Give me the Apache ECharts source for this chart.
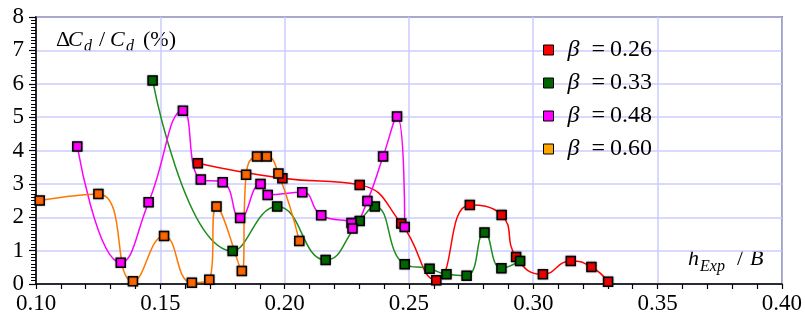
<!DOCTYPE html>
<html>
<head>
<meta charset="utf-8">
<script src="https://cdn.jsdelivr.net/npm/echarts@6/dist/echarts.min.js"></script>
<style>
  html, body { margin: 0; padding: 0; background: #fff; }
  #chart { width: 805px; height: 317px; }
</style>
</head>
<body>
<div id="chart"></div>
<script>
// beta = 0.26
var xRed = [0.1651, 0.1991, 0.2302, 0.2469, 0.2610, 0.2745, 0.2873, 0.2931, 0.3039, 0.3151, 0.3234, 0.3301];
var yRed = [3.62, 3.17, 2.97, 1.81, 0.11, 2.37, 2.07, 0.81, 0.29, 0.69, 0.51, 0.07];
// beta = 0.33
var xGreen = [0.1469, 0.1791, 0.1970, 0.2165, 0.2302, 0.2363, 0.2483, 0.2583, 0.2651, 0.2732, 0.2804, 0.2872, 0.2947];
var yGreen = [6.10, 0.99, 2.32, 0.72, 1.89, 2.32, 0.59, 0.46, 0.29, 0.25, 1.54, 0.47, 0.69];
// beta = 0.48
var xPink = [0.1166, 0.1341, 0.1453, 0.1591, 0.1663, 0.1751, 0.1821, 0.1903, 0.1932, 0.2071, 0.2147, 0.2269, 0.2273, 0.2333, 0.2396, 0.2452, 0.2483];
var yPink = [4.12, 0.64, 2.45, 5.19, 3.13, 3.05, 1.98, 3.00, 2.67, 2.75, 2.06, 1.83, 1.66, 2.49, 3.82, 5.02, 1.71];
// beta = 0.60
var xOrange = [0.1015, 0.1251, 0.1390, 0.1515, 0.1627, 0.1697, 0.1726, 0.1828, 0.1845, 0.1889, 0.1928, 0.1975, 0.2059];
var yOrange = [2.50, 2.70, 0.08, 1.44, 0.04, 0.13, 2.32, 0.39, 3.27, 3.82, 3.82, 3.31, 1.29];

var seriesNames = ['0.26', '0.33', '0.48', '0.60'];
var xTicks = [0.10, 0.15, 0.20, 0.25, 0.30, 0.35, 0.40];
var yTicks = [0, 1, 2, 3, 4, 5, 6, 7, 8];

var serif = '"Liberation Serif", "Times New Roman", serif';

function zip(xs, ys) {
    var out = [];
    for (var i = 0; i < xs.length; i++) out.push([xs[i], ys[i]]);
    return out;
}

function makeSeries(name, xs, ys, lineColor, markColor) {
    return {
        name: name,
        type: 'line',
        smooth: 0.5,
        data: zip(xs, ys),
        symbol: 'rect',
        symbolSize: 9,
        lineStyle: { color: lineColor, width: 1.5 },
        itemStyle: {
            color: markColor,
            borderColor: '#000',
            borderWidth: 1.5,
            shadowColor: 'rgba(0,0,0,0.35)',
            shadowBlur: 2
        },
        emphasis: { disabled: true },
        animation: false
    };
}

var chart = echarts.init(document.getElementById('chart'));

chart.setOption({
    animation: false,
    grid: {
        left: 36, right: 22, top: 17, bottom: 33,
        show: true,
        borderColor: '#000',
        borderWidth: 1.5
    },
    legend: {
        orient: 'vertical',
        left: 538,
        top: 33,
        itemWidth: 10,
        itemHeight: 10,
        itemGap: 9,
        icon: 'rect',
        itemStyle: { borderColor: '#000', borderWidth: 1 },
        data: [
            { name: seriesNames[0], itemStyle: { color: '#ff0000' } },
            { name: seriesNames[1], itemStyle: { color: '#006400' } },
            { name: seriesNames[2], itemStyle: { color: '#ff00ff' } },
            { name: seriesNames[3], itemStyle: { color: '#ffa500' } }
        ],
        formatter: function (name) {
            return '{b|β}{e|=}{n|' + name + '}';
        },
        textStyle: {
            color: '#000',
            fontFamily: serif,
            fontSize: 24,
            lineHeight: 24,
            rich: {
                b: { fontFamily: serif, fontStyle: 'italic', fontSize: 24, padding: [0, 0, 0, 9] },
                e: { fontFamily: serif, fontSize: 24, padding: [0, 5, 0, 12] },
                n: { fontFamily: serif, fontSize: 24 }
            }
        }
    },
    xAxis: {
        type: 'value',
        min: xTicks[0],
        max: xTicks[xTicks.length - 1],
        interval: 0.05,
        axisLine: { lineStyle: { color: '#000', width: 1.5 } },
        axisTick: { show: true, inside: false, length: 5, lineStyle: { color: '#000', width: 1.2 } },
        minorTick: { show: true, splitNumber: 5, length: 5, lineStyle: { color: '#000', width: 1.2 } },
        splitLine: { show: true, lineStyle: { color: '#ccccff', width: 1.5 } },
        axisLabel: {
            color: '#000',
            fontFamily: serif,
            fontSize: 23,
            margin: 8,
            formatter: function (v) { return v.toFixed(2); }
        }
    },
    yAxis: {
        type: 'value',
        min: yTicks[0],
        max: yTicks[yTicks.length - 1],
        interval: 1,
        axisLine: { show: true, lineStyle: { color: '#000', width: 1.5 } },
        axisTick: { show: true, inside: false, length: 7, lineStyle: { color: '#000', width: 1.2 } },
        minorTick: { show: true, splitNumber: 10, length: 5, lineStyle: { color: '#000', width: 1 } },
        splitLine: { show: true, lineStyle: { color: '#ccccff', width: 1.5 } },
        axisLabel: {
            color: '#000',
            fontFamily: serif,
            fontSize: 23,
            margin: 12
        }
    },
    graphic: [
        { type: 'text', left: 56, top: 29, style: { text: 'Δ', font: '22px ' + serif, fill: '#000' } },
        { type: 'text', left: 68, top: 29, style: { text: 'C', font: 'italic 22px ' + serif, fill: '#000' } },
        { type: 'text', left: 84, top: 39, style: { text: 'd', font: 'italic 16px ' + serif, fill: '#000' } },
        { type: 'text', left: 99, top: 29, style: { text: '/', font: '22px ' + serif, fill: '#000' } },
        { type: 'text', left: 110, top: 29, style: { text: 'C', font: 'italic 22px ' + serif, fill: '#000' } },
        { type: 'text', left: 126, top: 39, style: { text: 'd', font: 'italic 16px ' + serif, fill: '#000' } },
        { type: 'text', left: 143, top: 29, style: { text: '(%)', font: '22px ' + serif, fill: '#000' } },

        { type: 'text', left: 688, top: 248, style: { text: 'h', font: 'italic 22px ' + serif, fill: '#000' } },
        { type: 'text', left: 700, top: 259, style: { text: 'Exp', font: 'italic 16px ' + serif, fill: '#000' } },
        { type: 'text', left: 737, top: 248, style: { text: '/', font: '22px ' + serif, fill: '#000' } },
        { type: 'text', left: 750, top: 248, style: { text: 'B', font: 'italic 22px ' + serif, fill: '#000' } }
    ],
    series: [
        makeSeries(seriesNames[0], xRed, yRed, '#ff0000', '#ee0000'),
        makeSeries(seriesNames[1], xGreen, yGreen, '#1e8c1e', '#006600'),
        makeSeries(seriesNames[2], xPink, yPink, '#ff00ff', '#ff00ff'),
        makeSeries(seriesNames[3], xOrange, yOrange, '#ff7700', '#ff6600')
    ]
});

window.onresize = function () {
    chart.resize();
};
</script>
</body>
</html>
